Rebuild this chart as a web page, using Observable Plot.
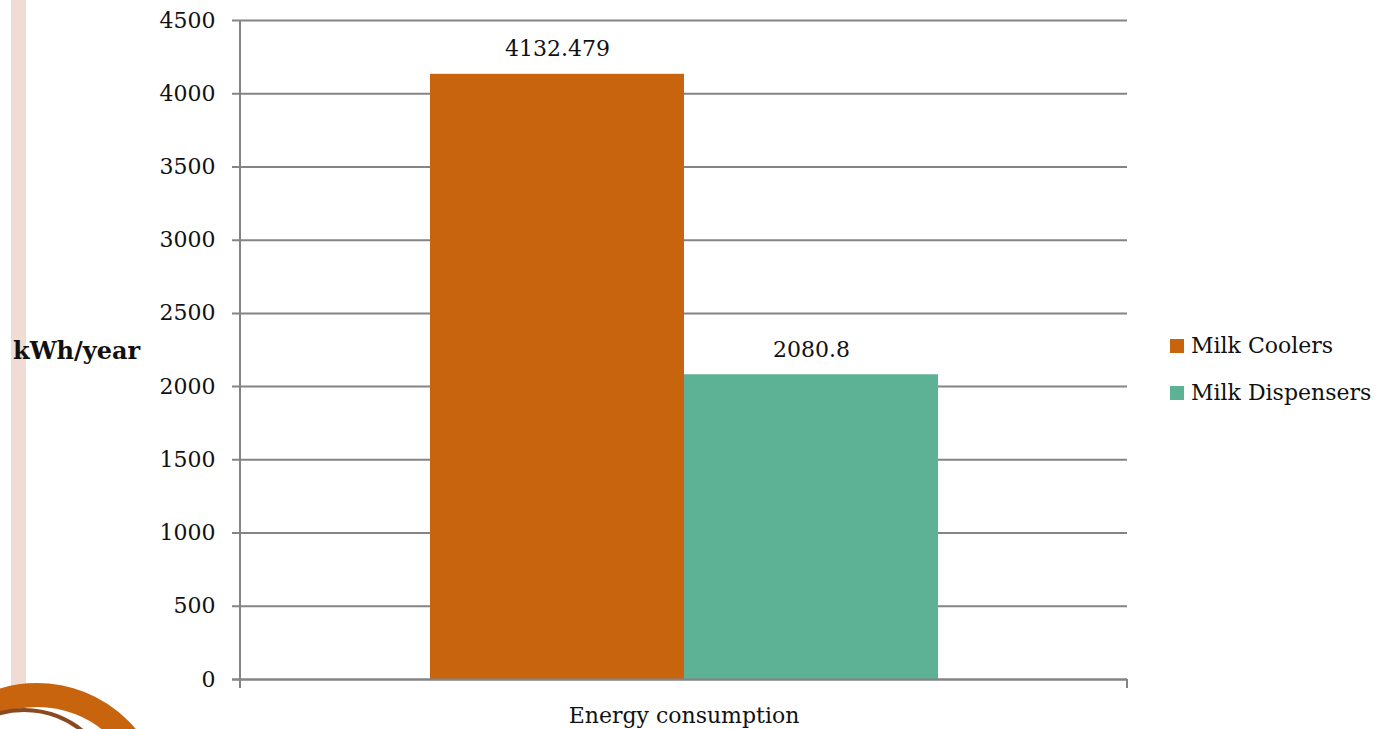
<!DOCTYPE html>
<html>
<head>
<meta charset="utf-8">
<script src="https://cdn.jsdelivr.net/npm/d3@7"></script>
<script src="https://cdn.jsdelivr.net/npm/@observablehq/plot@0.6"></script>
<style>
  html, body { margin: 0; padding: 0; background: #fff; overflow: hidden; }
  #wrap { position: relative; width: 1398px; height: 729px; overflow: hidden; font-family: "DejaVu Serif", serif; }
  #stripe { position: absolute; left: 11px; top: 0; width: 15px; height: 690px; background: #F0DCD5; }
  #logo { position: absolute; left: -92px; top: 683px; width: 210px; height: 210px; border-radius: 50%;
          border: 24px solid #C8640E; background: #fff; }
  #logo2 { position: absolute; left: -70px; top: 708px; width: 180px; height: 180px; border-radius: 50%;
          border: 4px solid #8a4a20; }
  #ylab { position: absolute; left: 13px; top: 336px; font-weight: bold; font-size: 24px; color: #111; }
  #legend { position: absolute; left: 1170px; top: 322px; font-size: 22px; color: #111; }
  .item { display: flex; align-items: center; height: 47px; }
  .sw { width: 14px; height: 14px; margin-right: 7px; }
  #chart { position: absolute; left: 0; top: 0; }
</style>
</head>
<body>
<div id="wrap">
  <div id="stripe"></div>
  <div id="logo"></div>
  <div id="logo2"></div>
  <div id="chart"></div>
  <div id="ylab">kWh/year</div>
  <div id="legend"></div>
</div>
<script>
const category = "Energy consumption";
const series = ["Milk Coolers", "Milk Dispensers"];
const values = [4132.479, 2080.8];
const colors = ["#C8640E", "#5DB195"];
const yTicks = [0, 500, 1000, 1500, 2000, 2500, 3000, 3500, 4000, 4500];
const yLabel = "kWh/year";

const data = series.map((s, i) => ({series: s, value: values[i]}));

const axisColor = "#848484";

const endTicks = (index, scales, vals, dims) => {
  const g = d3.create("svg:g").attr("stroke", axisColor).attr("stroke-width", 2);
  const x0 = dims.marginLeft, x1 = dims.width - dims.marginRight;
  const yb = dims.height - dims.marginBottom;
  g.append("line").attr("x1", x0).attr("x2", x0).attr("y1", dims.marginTop).attr("y2", yb + 9);
  g.append("line").attr("x1", x1).attr("x2", x1).attr("y1", yb).attr("y2", yb + 9);
  return g.node();
};

const chart = Plot.plot({
  width: 1398,
  height: 729,
  marginLeft: 240,
  marginRight: 271,
  marginTop: 20,
  marginBottom: 50,
  style: {fontFamily: "DejaVu Serif, serif", fontSize: "22px", color: "#111", background: "transparent"},
  x: {domain: series, padding: 0, paddingOuter: 0.746, axis: null},
  y: {domain: [0, 4500], axis: null},
  color: {domain: series, range: colors},
  marks: [
    Plot.ruleY(yTicks, {stroke: axisColor, strokeWidth: 2, insetLeft: -8}),
    Plot.barY(data, {x: "series", y: "value", fill: "series"}),
    Plot.ruleY([0], {stroke: axisColor, strokeWidth: 2, insetLeft: -8}),
    endTicks,
    Plot.axisY({ticks: yTicks, tickSize: 0, tickPadding: 25, fontSize: 22, label: null, tickFormat: d => String(d)}),
    Plot.text(data, {x: "series", y: "value", text: d => String(d.value), dy: -25, fontSize: 22, fill: "#111"}),
    Plot.text([category], {text: d => d, frameAnchor: "bottom", dy: 43, fontSize: 22, fill: "#111"})
  ]
});
document.getElementById("chart").appendChild(chart);

document.getElementById("ylab").textContent = yLabel;
const legend = document.getElementById("legend");
series.forEach((s, i) => {
  const item = document.createElement("div");
  item.className = "item";
  const sw = document.createElement("div");
  sw.className = "sw";
  sw.style.background = colors[i];
  const t = document.createElement("span");
  t.textContent = s;
  item.appendChild(sw);
  item.appendChild(t);
  legend.appendChild(item);
});
</script>
</body>
</html>
